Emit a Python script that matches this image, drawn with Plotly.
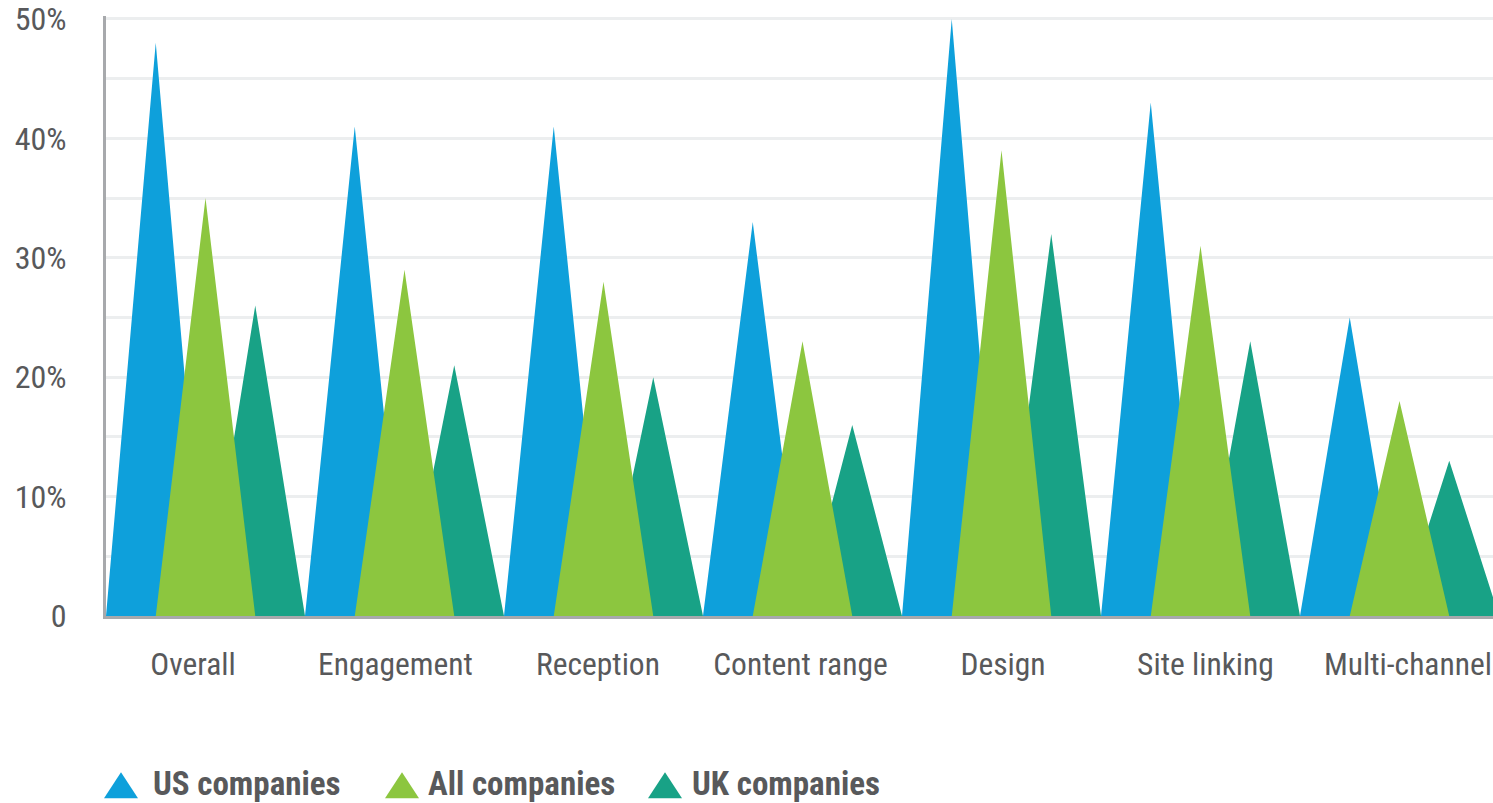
import plotly.graph_objects as go

categories = ["Overall", "Engagement", "Reception", "Content range", "Design", "Site linking", "Multi-channel"]
us_companies = [48, 41, 41, 33, 50, 43, 25]
all_companies = [35, 29, 28, 23, 39, 31, 18]
uk_companies = [26, 21, 20, 16, 32, 23, 13]
y_tick_values = [0, 10, 20, 30, 40, 50]
y_tick_labels = ["0", "10%", "20%", "30%", "40%", "50%"]

BLUE = "#0ea0db"
GREEN = "#8cc63f"
TEAL = "#18a286"
TEXT = "#58595b"
FONT = "Liberation Sans Narrow, Roboto Condensed, Liberation Sans, sans-serif"

W, H = 1493, 803
ML = 106
Y_TOP = 50.25
PX_PER_PCT = 12.0
plot_h = Y_TOP * PX_PER_PCT          # 603
MB = H - 616
MT = H - MB - plot_h
PX_PER_CAT = 199.0
plot_w = W - ML


def spikes(values, offset):
    xs, ys = [], []
    for i, v in enumerate(values):
        x0 = i + offset
        xs += [x0, x0 + 0.25, x0 + 0.5, x0, None]
        ys += [0, v, 0, 0, None]
    return xs, ys


fig = go.Figure()
for name, vals, off, col in [("US companies", us_companies, 0.0, BLUE),
                              ("UK companies", uk_companies, 0.5, TEAL),
                              ("All companies", all_companies, 0.25, GREEN)]:
    xs, ys = spikes(vals, off)
    fig.add_trace(go.Scatter(x=xs, y=ys, mode="lines", fill="toself", fillcolor=col,
                             line=dict(width=0, color=col), name=name, showlegend=False,
                             hoverinfo="skip"))

label_start, label_step = 0.437, 1.0176
tickvals = [label_start + i * label_step for i in range(len(categories))]

fig.update_layout(
    width=W, height=H,
    margin=dict(l=ML, r=0, t=MT, b=MB),
    paper_bgcolor="white", plot_bgcolor="white",
    font=dict(family=FONT, color=TEXT, size=32),
    xaxis=dict(range=[0, plot_w / PX_PER_CAT], tickmode="array", tickvals=tickvals,
               ticktext=categories, showgrid=False, zeroline=False,
               showline=True, linecolor="#a7a9ac", linewidth=3,
               ticks="outside", ticklen=18, tickcolor="rgba(0,0,0,0)",
               ticklabeloverflow="allow",
               tickfont=dict(size=31.5, color=TEXT, family=FONT)),
    yaxis=dict(range=[0, Y_TOP], tickmode="array", tickvals=y_tick_values, ticktext=y_tick_labels,
               showgrid=True, gridcolor="#eceeef", gridwidth=3, zeroline=False,
               showline=True, linecolor="#a7a9ac", linewidth=3,
               ticks="outside", ticklen=30, tickcolor="rgba(0,0,0,0)",
               ticklabeloverflow="allow",
               tickfont=dict(size=32, color=TEXT, family=FONT),
               minor=dict(tickmode="linear", dtick=5, showgrid=True, gridcolor="#eceeef", gridwidth=3)),
    showlegend=False,
)

legend_y_px = 784
legend_y = -(legend_y_px - (H - MB)) / plot_h
legend_items = [("US companies", BLUE, 121, 151), ("All companies", GREEN, 402, 426), ("UK companies", TEAL, 665, 690)]
for name, col, tx, lx in legend_items:
    fig.add_shape(type="path", xref="paper", yref="paper",
                  xsizemode="pixel", ysizemode="pixel",
                  xanchor=(tx - ML) / plot_w, yanchor=-(786 - (H - MB)) / plot_h,
                  path="M -17,-13 L 17,-13 L 0,13 Z",
                  fillcolor=col, line=dict(width=0))
    fig.add_annotation(xref="paper", yref="paper", x=(lx - ML) / plot_w, y=legend_y,
                       text=f"<b>{name}</b>", showarrow=False, xanchor="left", yanchor="middle",
                       font=dict(size=33, color=TEXT, family=FONT))

fig.write_html("out.html", config={"displayModeBar": False},
               post_script="document.body.style.margin='0';document.body.style.overflow='hidden';")
